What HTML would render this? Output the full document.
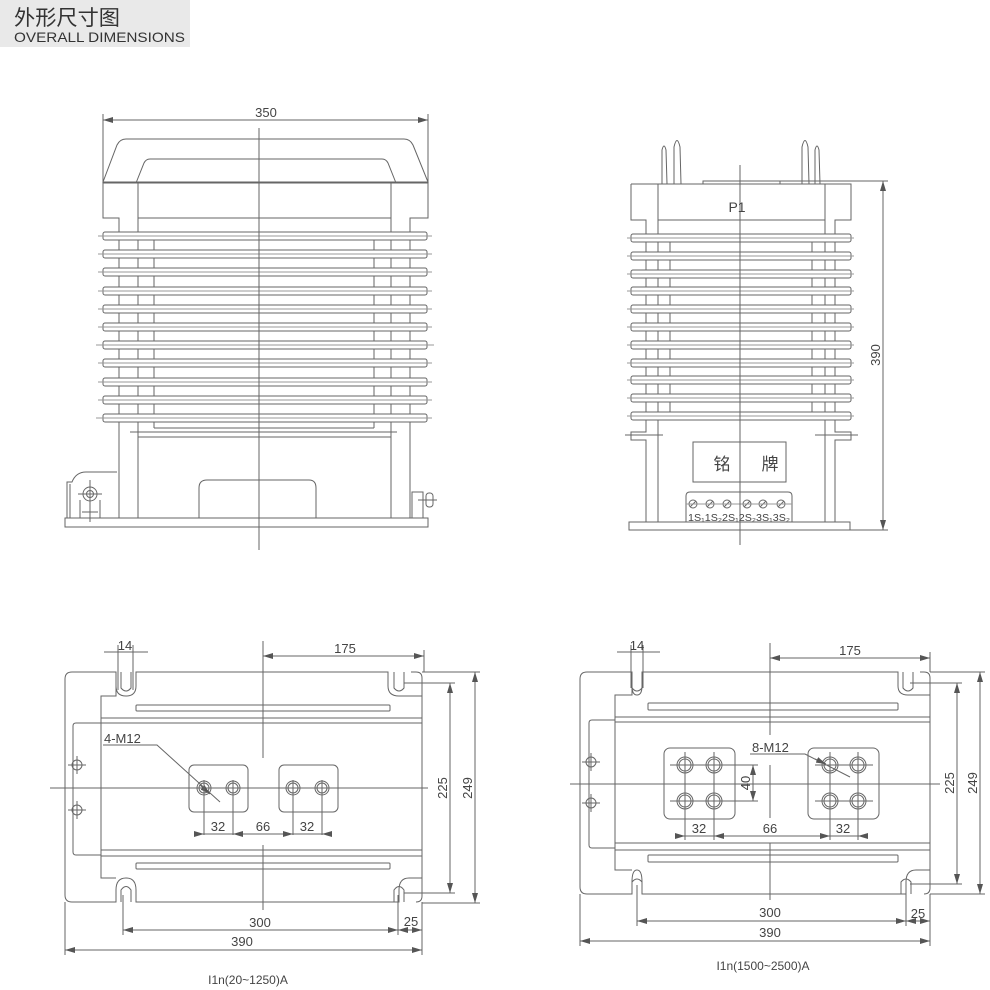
<!DOCTYPE html>
<html><head><meta charset="utf-8"><style>
html,body{margin:0;padding:0;background:#fff;}
svg{display:block;}
text{font-family:"Liberation Sans","Noto Sans CJK SC",sans-serif;fill:#444;}
</style></head><body>
<svg width="990" height="990" viewBox="0 0 990 990" xmlns="http://www.w3.org/2000/svg">
<defs>
<marker id="a" viewBox="0 0 10 6" refX="10" refY="3" markerWidth="10" markerHeight="6" orient="auto-start-reverse" markerUnits="userSpaceOnUse"><path d="M0,0 L10,3 L0,6 z" fill="#555"/></marker>
</defs>
<rect x="0" y="0" width="190" height="47" fill="#e9e9e9"/>
<text x="14" y="25" font-size="21" style="fill:#333" textLength="106" lengthAdjust="spacingAndGlyphs">外形尺寸图</text>
<text x="14" y="42" font-size="14" style="fill:#333" textLength="171" lengthAdjust="spacingAndGlyphs">OVERALL DIMENSIONS</text>

<g stroke="#666" stroke-width="1" fill="none">
<!-- ===== TOP LEFT ===== -->
<line x1="103" y1="120" x2="428" y2="120" marker-start="url(#a)" marker-end="url(#a)"/>
<line x1="103" y1="114" x2="103" y2="183"/><line x1="428" y1="114" x2="428" y2="183"/>
<path d="M103,182 L117,145 Q120,139 126,139 L404,139 Q410,139 413,145 L428,182 Z" fill="#fff"/>
<path d="M136,183 L144,163 Q146,159 150,159 L382,159 Q386,159 388,163 L396,183"/>
<line x1="103" y1="183" x2="428" y2="183"/>
<path d="M103,183 L103,218 L119,218 L119,518"/>
<path d="M428,183 L428,218 L410,218 L410,518"/>
<line x1="138" y1="183" x2="138" y2="518"/><line x1="391" y1="183" x2="391" y2="518"/>
<line x1="138" y1="218" x2="391" y2="218"/>
<line x1="154" y1="232" x2="154" y2="428"/><line x1="374" y1="232" x2="374" y2="428"/>
<g fill="#fff">
<rect x="103" y="232" width="324" height="8" rx="2"/><rect x="103" y="250" width="324" height="8" rx="2"/>
<rect x="103" y="268" width="324" height="8" rx="2"/><rect x="103" y="287" width="324" height="8" rx="2"/>
<rect x="103" y="305" width="324" height="8" rx="2"/><rect x="103" y="323" width="324" height="8" rx="2"/>
<rect x="103" y="341" width="324" height="8" rx="2"/><rect x="103" y="359" width="324" height="8" rx="2"/>
<rect x="103" y="378" width="324" height="8" rx="2"/><rect x="103" y="396" width="324" height="8" rx="2"/>
<rect x="103" y="414" width="324" height="8" rx="2"/>
</g>
<g stroke="#999">
<line x1="98" y1="236" x2="432" y2="236"/><line x1="98" y1="254" x2="432" y2="254"/>
<line x1="98" y1="272" x2="432" y2="272"/><line x1="98" y1="291" x2="432" y2="291"/>
<line x1="98" y1="309" x2="432" y2="309"/><line x1="98" y1="327" x2="432" y2="327"/>
<line x1="96" y1="345" x2="434" y2="345"/><line x1="98" y1="363" x2="432" y2="363"/>
<line x1="98" y1="382" x2="432" y2="382"/><line x1="98" y1="400" x2="432" y2="400"/>
<line x1="96" y1="418" x2="432" y2="418"/>
</g>
<line x1="154" y1="428" x2="374" y2="428"/>
<line x1="130" y1="432" x2="397" y2="432"/>
<line x1="138" y1="437" x2="391" y2="437"/>
<path d="M199,518 L199,488 Q199,480 207,480 L309,480 Q316,480 316,488 L316,518"/>
<rect x="65" y="518" width="363" height="9" fill="#fff"/>
<path d="M67,518 L67,482 L72,482 Q76,472 86,472 L117,472"/>
<line x1="70" y1="484" x2="70" y2="518"/>
<path d="M80,518 L80,500 M100,518 L100,500"/>
<line x1="82" y1="512" x2="98" y2="512"/>
<circle cx="90" cy="494" r="7" fill="#fff"/><circle cx="90" cy="494" r="3.5"/>
<line x1="78" y1="494" x2="102" y2="494"/><line x1="90" y1="480" x2="90" y2="522"/>
<rect x="412" y="492" width="11" height="26"/>
<rect x="426" y="493" width="7" height="14" rx="3"/>
<line x1="418" y1="500" x2="437" y2="500"/>
<line x1="259" y1="128" x2="259" y2="550"/>

<!-- ===== TOP RIGHT ===== -->
<path d="M662,184 L662,150 Q664,142 666,150 L667,184"/>
<path d="M674,184 L674,147 Q677,134 680,147 L681,184"/>
<path d="M802,184 L802,147 Q805,134 808,147 L809,184"/>
<path d="M815,184 L815,150 Q817,142 819,150 L820,184"/>
<rect x="703" y="181" width="77" height="3"/>
<line x1="780" y1="181" x2="888" y2="181"/>
<path d="M631,184 L851,184 L851,220 L835,220 L835,432 M631,184 L631,220 L646,220 L646,432"/>
<line x1="658" y1="184" x2="658" y2="522"/><line x1="825" y1="184" x2="825" y2="522"/>
<line x1="658" y1="220" x2="825" y2="220"/>
<line x1="670" y1="234" x2="670" y2="420"/><line x1="812" y1="234" x2="812" y2="420"/>
<g fill="#fff">
<rect x="631" y="234" width="220" height="8" rx="2"/><rect x="631" y="252" width="220" height="8" rx="2"/>
<rect x="631" y="270" width="220" height="8" rx="2"/><rect x="631" y="287" width="220" height="8" rx="2"/>
<rect x="631" y="305" width="220" height="8" rx="2"/><rect x="631" y="323" width="220" height="8" rx="2"/>
<rect x="631" y="341" width="220" height="8" rx="2"/><rect x="631" y="359" width="220" height="8" rx="2"/>
<rect x="631" y="376" width="220" height="8" rx="2"/><rect x="631" y="394" width="220" height="8" rx="2"/>
<rect x="631" y="412" width="220" height="8" rx="2"/>
</g>
<g stroke="#999">
<line x1="627" y1="238" x2="854" y2="238"/><line x1="627" y1="256" x2="854" y2="256"/>
<line x1="627" y1="274" x2="854" y2="274"/><line x1="627" y1="291" x2="854" y2="291"/>
<line x1="627" y1="309" x2="854" y2="309"/><line x1="627" y1="327" x2="854" y2="327"/>
<line x1="627" y1="345" x2="854" y2="345"/><line x1="627" y1="363" x2="854" y2="363"/>
<line x1="627" y1="380" x2="854" y2="380"/><line x1="627" y1="398" x2="854" y2="398"/>
<line x1="627" y1="416" x2="854" y2="416"/>
</g>
<path d="M646,420 L646,432 L631,432 L631,440 L646,440 L646,522"/>
<path d="M835,420 L835,432 L851,432 L851,440 L835,440 L835,522"/>
<line x1="625" y1="435" x2="663" y2="435"/><line x1="815" y1="435" x2="858" y2="435"/>
<rect x="693" y="442" width="93" height="40"/>
<path d="M686,522 L686,496 Q686,492 690,492 L788,492 Q792,492 792,496 L792,522"/>
<g>
<circle cx="693" cy="504" r="4"/><circle cx="710" cy="504" r="4"/><circle cx="727" cy="504" r="4"/>
<circle cx="747" cy="504" r="4"/><circle cx="763" cy="504" r="4"/><circle cx="781" cy="504" r="4"/>
<path d="M690,507 L696,501 M707,507 L713,501 M724,507 L730,501 M744,507 L750,501 M760,507 L766,501 M778,507 L784,501"/>
<line x1="686" y1="504" x2="792" y2="504" stroke="#999"/>
</g>
<rect x="629" y="522" width="221" height="8" fill="#fff"/>
<line x1="850" y1="530" x2="888" y2="530"/>
<line x1="883" y1="181" x2="883" y2="530" marker-start="url(#a)" marker-end="url(#a)"/>
<line x1="740" y1="165" x2="740" y2="545"/>

<!-- ===== BOTTOM LEFT ===== -->
<path d="M72,672 L116,672 L116,686 Q116,696 126,696 Q136,696 136,686 L136,672 L388,672 L388,686 Q388,696 399,696 L422,696 L422,878 L409,878 Q399,878 399,890 L399,902 L136,902 L136,890 Q136,878 126,878 Q116,878 116,890 L116,902 L72,902 Q65,902 65,895 L65,679 Q65,672 72,672 Z"/>
<path d="M116,686 L116,696 L101,696 L101,878 L116,878"/>
<path d="M411,672 L416,672 Q422,672 422,678 L422,696"/>
<path d="M416,902 Q422,902 422,896 L422,878"/>
<path d="M121,672 L121,688 Q126,694 131,688 L131,672"/>
<path d="M394,672 L394,688 Q399,694 404,688 L404,672"/>
<path d="M121,902 L121,890 Q126,883 131,890 L131,902"/>
<path d="M394,902 L394,890 Q399,883 404,890 L404,902"/>
<rect x="136" y="705" width="254" height="6" rx="1"/>
<rect x="136" y="863" width="254" height="6" rx="1"/>
<line x1="101" y1="718" x2="422" y2="718"/><line x1="101" y1="723" x2="422" y2="723"/>
<line x1="101" y1="850" x2="422" y2="850"/><line x1="101" y1="856" x2="422" y2="856"/>
<path d="M101,723 L76,723 Q73,723 73,726 L73,852 Q73,855 76,855 L101,855"/>
<circle cx="77" cy="765" r="5"/><line x1="68" y1="765" x2="86" y2="765"/><line x1="77" y1="756" x2="77" y2="774"/>
<circle cx="77" cy="810" r="5"/><line x1="68" y1="810" x2="86" y2="810"/><line x1="77" y1="801" x2="77" y2="819"/>
<rect x="189" y="765" width="59" height="47" rx="5"/>
<rect x="279" y="765" width="59" height="47" rx="5"/>
<circle cx="204" cy="788" r="7"/><circle cx="204" cy="788" r="5"/>
<circle cx="233" cy="788" r="7"/><circle cx="233" cy="788" r="5"/>
<circle cx="293" cy="788" r="7"/><circle cx="293" cy="788" r="5"/>
<circle cx="322" cy="788" r="7"/><circle cx="322" cy="788" r="5"/>
<line x1="50" y1="788" x2="428" y2="788"/>
<line x1="263" y1="641" x2="263" y2="758"/><line x1="263" y1="845" x2="263" y2="910"/>
<path d="M103,745 L157,745 L220,802" /><line x1="200" y1="785" x2="210" y2="794" marker-end="url(#a)"/>
<line x1="204" y1="780" x2="204" y2="835"/><line x1="233" y1="780" x2="233" y2="835"/>
<line x1="293" y1="780" x2="293" y2="835"/><line x1="322" y1="780" x2="322" y2="835"/>
<line x1="204" y1="834" x2="322" y2="834"/>
<line x1="194" y1="834" x2="204" y2="834" marker-end="url(#a)"/><line x1="243" y1="834" x2="233" y2="834" marker-end="url(#a)"/>
<line x1="283" y1="834" x2="293" y2="834" marker-end="url(#a)"/><line x1="332" y1="834" x2="322" y2="834" marker-end="url(#a)"/>
<line x1="104" y1="652" x2="148" y2="652"/>
<line x1="118" y1="645" x2="118" y2="690"/><line x1="133" y1="645" x2="133" y2="690"/>
<line x1="263" y1="656" x2="424" y2="656" marker-start="url(#a)" marker-end="url(#a)"/>
<line x1="424" y1="650" x2="424" y2="672"/>
<line x1="422" y1="672" x2="480" y2="672"/><line x1="404" y1="683" x2="455" y2="683"/>
<line x1="404" y1="893" x2="455" y2="893"/><line x1="422" y1="903" x2="480" y2="903"/>
<line x1="450" y1="683" x2="450" y2="893" marker-start="url(#a)" marker-end="url(#a)"/>
<line x1="475" y1="672" x2="475" y2="903" marker-start="url(#a)" marker-end="url(#a)"/>
<line x1="123" y1="895" x2="123" y2="935"/><line x1="398" y1="895" x2="398" y2="935"/>
<line x1="422" y1="902" x2="422" y2="955"/><line x1="65" y1="902" x2="65" y2="955"/>
<line x1="123" y1="930" x2="398" y2="930" marker-start="url(#a)" marker-end="url(#a)"/>
<line x1="398" y1="930" x2="422" y2="930"/><line x1="408" y1="930" x2="398" y2="930" marker-end="url(#a)"/><line x1="412" y1="930" x2="422" y2="930" marker-end="url(#a)"/>
<line x1="65" y1="950" x2="422" y2="950" marker-start="url(#a)" marker-end="url(#a)"/>

<!-- ===== BOTTOM RIGHT ===== -->
<path d="M587,672 L632,672 L632,686 Q632,695 637,695 Q642,695 642,686 L642,672 L898,672 L898,686 Q898,695 908,695 L930,695 L930,870 L916,870 Q906,870 906,882 L906,894 L642,894 L642,882 Q642,870 637,870 Q632,870 632,882 L632,894 L587,894 Q580,894 580,887 L580,679 Q580,672 587,672 Z"/>
<path d="M632,686 L632,695 L615,695 L615,870 L632,870"/>
<path d="M920,672 L924,672 Q930,672 930,678 L930,695"/>
<path d="M924,894 Q930,894 930,888 L930,870"/>
<path d="M632,672 L632,688 Q637,694 642,688 L642,672"/>
<path d="M903,672 L903,688 Q908,694 913,688 L913,672"/>
<path d="M632,894 L632,882 Q637,876 642,882 L642,894"/>
<path d="M901,894 L901,882 Q906,876 911,882 L911,894"/>
<rect x="648" y="703" width="250" height="7" rx="1"/>
<rect x="648" y="855" width="250" height="7" rx="1"/>
<line x1="615" y1="717" x2="930" y2="717"/><line x1="615" y1="722" x2="930" y2="722"/>
<line x1="615" y1="843" x2="930" y2="843"/><line x1="615" y1="850" x2="930" y2="850"/>
<path d="M615,720 L592,720 Q589,720 589,723 L589,845 Q589,848 592,848 L615,848"/>
<circle cx="591" cy="762" r="5"/><line x1="582" y1="762" x2="600" y2="762"/><line x1="591" y1="753" x2="591" y2="771"/>
<circle cx="591" cy="803" r="5"/><line x1="582" y1="803" x2="600" y2="803"/><line x1="591" y1="794" x2="591" y2="812"/>
<rect x="664" y="748" width="71" height="71" rx="6"/>
<rect x="808" y="748" width="71" height="71" rx="6"/>
<g>
<circle cx="685" cy="765" r="8"/><circle cx="685" cy="765" r="6"/>
<circle cx="714" cy="765" r="8"/><circle cx="714" cy="765" r="6"/>
<circle cx="685" cy="801" r="8"/><circle cx="685" cy="801" r="6"/>
<circle cx="714" cy="801" r="8"/><circle cx="714" cy="801" r="6"/>
<circle cx="830" cy="765" r="8"/><circle cx="830" cy="765" r="6"/>
<circle cx="858" cy="765" r="8"/><circle cx="858" cy="765" r="6"/>
<circle cx="830" cy="801" r="8"/><circle cx="830" cy="801" r="6"/>
<circle cx="858" cy="801" r="8"/><circle cx="858" cy="801" r="6"/>
</g>
<line x1="670" y1="765" x2="758" y2="765"/><line x1="670" y1="801" x2="758" y2="801"/>
<line x1="815" y1="765" x2="873" y2="765"/><line x1="815" y1="801" x2="873" y2="801"/>
<line x1="685" y1="752" x2="685" y2="840"/><line x1="714" y1="752" x2="714" y2="840"/>
<line x1="830" y1="752" x2="830" y2="840"/><line x1="858" y1="752" x2="858" y2="840"/>
<line x1="753" y1="765" x2="753" y2="801" marker-start="url(#a)" marker-end="url(#a)"/>
<line x1="570" y1="784" x2="940" y2="784"/>
<line x1="770" y1="643" x2="770" y2="735"/><line x1="770" y1="765" x2="770" y2="818"/><line x1="770" y1="843" x2="770" y2="900"/>
<path d="M750,754 L805,754 L850,777"/><line x1="815" y1="759" x2="826" y2="764" marker-end="url(#a)"/>
<line x1="685" y1="836" x2="858" y2="836"/>
<line x1="675" y1="836" x2="685" y2="836" marker-end="url(#a)"/><line x1="724" y1="836" x2="714" y2="836" marker-end="url(#a)"/>
<line x1="820" y1="836" x2="830" y2="836" marker-end="url(#a)"/><line x1="868" y1="836" x2="858" y2="836" marker-end="url(#a)"/>
<line x1="617" y1="652" x2="660" y2="652"/>
<line x1="631" y1="645" x2="631" y2="688"/><line x1="643" y1="645" x2="643" y2="688"/>
<line x1="770" y1="658" x2="930" y2="658" marker-start="url(#a)" marker-end="url(#a)"/>
<line x1="930" y1="652" x2="930" y2="672"/>
<line x1="930" y1="672" x2="985" y2="672"/><line x1="910" y1="683" x2="962" y2="683"/>
<line x1="910" y1="884" x2="962" y2="884"/><line x1="930" y1="894" x2="985" y2="894"/>
<line x1="957" y1="683" x2="957" y2="884" marker-start="url(#a)" marker-end="url(#a)"/>
<line x1="980" y1="672" x2="980" y2="894" marker-start="url(#a)" marker-end="url(#a)"/>
<line x1="637" y1="885" x2="637" y2="926"/><line x1="906" y1="885" x2="906" y2="926"/>
<line x1="930" y1="894" x2="930" y2="946"/><line x1="580" y1="894" x2="580" y2="946"/>
<line x1="637" y1="921" x2="906" y2="921" marker-start="url(#a)" marker-end="url(#a)"/>
<line x1="906" y1="921" x2="930" y2="921"/><line x1="916" y1="921" x2="906" y2="921" marker-end="url(#a)"/><line x1="920" y1="921" x2="930" y2="921" marker-end="url(#a)"/>
<line x1="580" y1="941" x2="930" y2="941" marker-start="url(#a)" marker-end="url(#a)"/>
</g>

<!-- texts -->
<g font-size="13">
<text x="266" y="117" text-anchor="middle">350</text>
<text x="737" y="212" text-anchor="middle" font-size="14">P1</text>
<text x="722" y="470" text-anchor="middle" font-size="17">铭</text>
<text x="770" y="470" text-anchor="middle" font-size="17">牌</text>
<text x="739" y="521" text-anchor="middle" font-size="10" textLength="102" lengthAdjust="spacingAndGlyphs">1S₁1S₂2S₁2S₂3S₁3S₂</text>
<text transform="translate(880,355) rotate(-90)" text-anchor="middle">390</text>

<text x="125" y="650" text-anchor="middle">14</text>
<text x="345" y="653" text-anchor="middle">175</text>
<text x="104" y="743">4-M12</text>
<text x="218" y="831" text-anchor="middle">32</text>
<text x="263" y="831" text-anchor="middle">66</text>
<text x="307" y="831" text-anchor="middle">32</text>
<text transform="translate(447,788) rotate(-90)" text-anchor="middle">225</text>
<text transform="translate(472,788) rotate(-90)" text-anchor="middle">249</text>
<text x="260" y="927" text-anchor="middle">300</text>
<text x="411" y="926" text-anchor="middle">25</text>
<text x="242" y="946" text-anchor="middle">390</text>
<text x="248" y="984" text-anchor="middle" font-size="12">I1n(20~1250)A</text>

<text x="637" y="650" text-anchor="middle">14</text>
<text x="850" y="655" text-anchor="middle">175</text>
<text x="752" y="752">8-M12</text>
<text transform="translate(750,783) rotate(-90)" text-anchor="middle">40</text>
<text x="699" y="833" text-anchor="middle">32</text>
<text x="770" y="833" text-anchor="middle">66</text>
<text x="843" y="833" text-anchor="middle">32</text>
<text transform="translate(954,783) rotate(-90)" text-anchor="middle">225</text>
<text transform="translate(977,783) rotate(-90)" text-anchor="middle">249</text>
<text x="770" y="917" text-anchor="middle">300</text>
<text x="918" y="918" text-anchor="middle">25</text>
<text x="770" y="937" text-anchor="middle">390</text>
<text x="763" y="970" text-anchor="middle" font-size="12">I1n(1500~2500)A</text>
</g>
</svg>
</body></html>
